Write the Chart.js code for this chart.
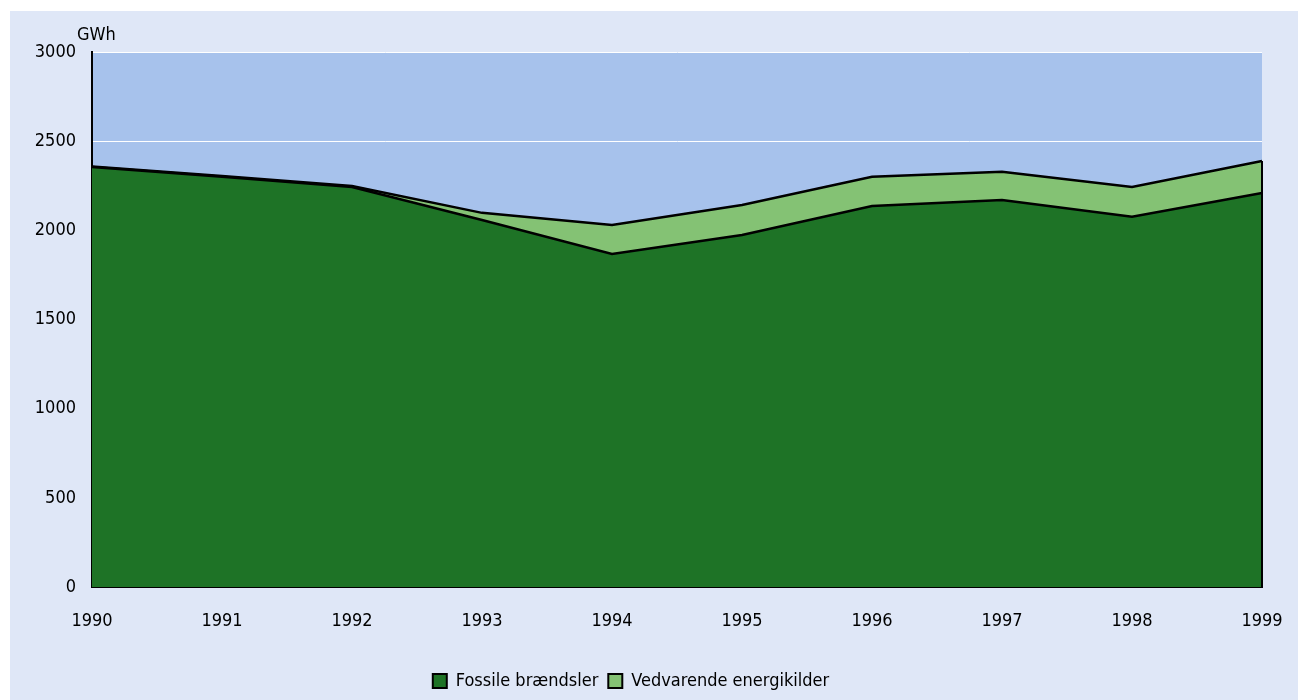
<!DOCTYPE html>
<html>
<head>
<meta charset="utf-8">
<script src="https://cdn.jsdelivr.net/npm/chart.js@4"></script>
<style>
  html, body { margin: 0; padding: 0; background: #ffffff; }
  #wrap { width: 1298px; height: 700px; }
</style>
</head>
<body>
<div id="wrap"><canvas id="energyChart" width="1298" height="700"></canvas></div>
<script>
// Years on the x axis
const years = ["1990", "1991", "1992", "1993", "1994", "1995", "1996", "1997", "1998", "1999"];

// GWh per source
const fossil = [2355, 2300, 2243, 2058, 1867, 1974, 2136, 2170, 2076, 2209];
const renewable = [3, 4, 6, 40, 163, 168, 165, 159, 167, 180];

const fontFamily = '"Liberation Sans Narrow", "DejaVu Sans Condensed", sans-serif';

// Paint the light panel and the plot area background
const backgroundPlugin = {
  id: "panelBackground",
  beforeDraw(chart) {
    const ctx = chart.ctx;
    const area = chart.chartArea;
    ctx.save();
    ctx.fillStyle = "#ffffff";
    ctx.fillRect(0, 0, chart.width, chart.height);
    ctx.fillStyle = "#dfe7f7";
    ctx.fillRect(10, 11, chart.width - 10, chart.height - 11);
    ctx.fillStyle = "#a7c2ec";
    ctx.fillRect(area.left, area.top, area.right - area.left, area.bottom - area.top);
    ctx.restore();
  },
  afterDatasetsDraw(chart) {
    // Close the stacked area on the right-hand side
    const ctx = chart.ctx;
    const x = chart.scales.x;
    const y = chart.scales.y;
    const last = years.length - 1;
    const px = x.getPixelForValue(last);
    ctx.save();
    ctx.strokeStyle = "#000000";
    ctx.lineWidth = 2;
    ctx.beginPath();
    ctx.moveTo(px, y.getPixelForValue(fossil[last] + renewable[last]));
    ctx.lineTo(px, y.getPixelForValue(0));
    ctx.stroke();
    ctx.restore();

    // Unit label above the y axis
    ctx.save();
    ctx.fillStyle = "#000000";
    ctx.font = "18px " + fontFamily;
    ctx.textBaseline = "middle";
    ctx.fillText("GWh", 77, 35);
    ctx.restore();
  }
};

const ctx = document.getElementById("energyChart").getContext("2d");
const energyChart = new Chart(ctx, {
  type: "line",
  data: {
    labels: years,
    datasets: [
      {
        label: "Fossile brændsler",
        data: fossil,
        backgroundColor: "#1e7326",
        borderColor: "#000000",
        borderWidth: 2.5,
        fill: "origin",
        pointRadius: 0,
        tension: 0,
      },
      {
        label: "Vedvarende energikilder",
        data: renewable,
        backgroundColor: "#84c274",
        borderColor: "#000000",
        borderWidth: 2.5,
        fill: "-1",
        pointRadius: 0,
        tension: 0,
      },
    ],
  },
  options: {
    responsive: false,
    animation: false,
    layout: {
      padding: { top: 52, right: 36, bottom: 0, left: 0 },
    },
    plugins: {
      legend: {
        position: "bottom",
        labels: {
          color: "#000000",
          font: { family: fontFamily, size: 18 },
          boxWidth: 14,
          boxHeight: 14,
          padding: 10,
          generateLabels(chart) {
            return chart.data.datasets.map((ds, i) => ({
              text: ds.label,
              fillStyle: ds.backgroundColor,
              strokeStyle: "#000000",
              lineWidth: 2,
              datasetIndex: i,
              fontColor: "#000000",
            }));
          },
        },
      },
      tooltip: { enabled: false },
    },
    scales: {
      x: {
        offset: false,
        grid: { display: false, drawTicks: false },
        border: { display: true, color: "#000000", width: 2 },
        ticks: {
          color: "#000000",
          font: { family: fontFamily, size: 18 },
          padding: 24,
          maxRotation: 0,
        },
        afterFit(scale) {
          scale.height = 75;
          scale.paddingLeft = 0;
          scale.paddingRight = 0;
        },
      },
      y: {
        stacked: true,
        min: 0,
        max: 3000,
        grid: { color: "#ffffff", lineWidth: 1, drawTicks: false },
        border: { display: true, color: "#000000", width: 2 },
        ticks: {
          stepSize: 500,
          color: "#000000",
          font: { family: fontFamily, size: 18 },
          padding: 16,
          callback: (value) => String(value),
        },
        afterFit(scale) {
          scale.width = 92;
        },
      },
    },
  },
  plugins: [backgroundPlugin],
});
</script>
</body>
</html>
